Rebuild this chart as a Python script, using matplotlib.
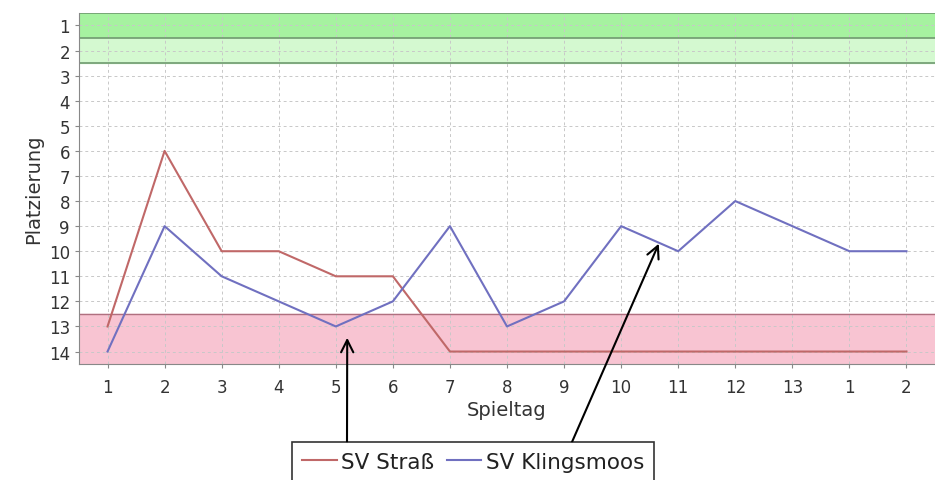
import numpy as np
import matplotlib
matplotlib.use('Agg')
import matplotlib.pyplot as plt

# Spieltage (Rückrunde beginnt wieder bei 1)
spieltag_labels = ['1', '2', '3', '4', '5', '6', '7', '8', '9', '10', '11', '12', '13', '1', '2']
strass = [13, 6, 10, 10, 11, 11, 14, 14, 14, 14, 14, 14, 14, 14, 14]
klingsmoos = [14, 9, 11, 12, 13, 12, 9, 13, 12, 9, 10, 8, 9, 10, 10]
platz_ticks = list(range(1, 15))

x = np.arange(1, len(spieltag_labels) + 1)

fig = plt.figure(figsize=(9.35, 4.81), dpi=100)
ax = fig.add_axes([0.0845, 0.241, 0.9155, 0.73])

# Aufstiegs- / Abstiegszonen
ax.axhspan(0.5, 1.5, color='#a6f2a0', zorder=0)
ax.axhspan(1.5, 2.5, color='#d4f9d0', zorder=0)
ax.axhspan(12.5, 14.5, color='#f8c4d2', zorder=0)
for yy in [0.5, 1.5, 2.5]:
    ax.axhline(yy, color='#6f9a6f', lw=1.2, zorder=1)
ax.axhline(12.5, color='#b07080', lw=1.0, zorder=1)

ax.grid(True, color='#c8c8c8', linestyle=(0, (3, 3)), lw=0.7, zorder=0.5)
ax.set_axisbelow(True)

l1, = ax.plot(x, strass, color='#c06868', lw=1.5, label='SV Straß', zorder=3)
l2, = ax.plot(x, klingsmoos, color='#7070c0', lw=1.5, label='SV Klingsmoos', zorder=3)

ax.set_xlim(0.5, 15.5)
ax.set_ylim(14.5, 0.5)
ax.set_xticks(x)
ax.set_xticklabels(spieltag_labels)
ax.set_yticks(platz_ticks)
ax.tick_params(labelsize=12, length=3, color='#888888', labelcolor='#333333')
ax.tick_params(axis='x', pad=7)
ax.set_xlabel('Spieltag', fontsize=14, color='#333333', labelpad=3)
ax.set_ylabel('Platzierung', fontsize=14, color='#333333', labelpad=4)

for s in ['top', 'right']:
    ax.spines[s].set_visible(False)
for s in ['left', 'bottom']:
    ax.spines[s].set_color('#888888')

leg = fig.legend(handles=[l1, l2], loc='upper center', bbox_to_anchor=(0.506, 0.079),
                 ncol=2, fontsize=15.5, frameon=True, fancybox=False, edgecolor='black',
                 handlelength=1.6, handletextpad=0.2, columnspacing=0.6,
                 borderpad=0.45, borderaxespad=0, labelcolor='#222222')
leg.get_frame().set_linewidth(1.2)

# Pfeile zu den Kurven
ax.annotate('', xy=(5.2, 13.45), xycoords='data',
            xytext=(347, 38), textcoords='figure pixels',
            arrowprops=dict(arrowstyle='->', color='black', lw=1.5,
                            mutation_scale=22, shrinkA=0, shrinkB=0),
            annotation_clip=False, zorder=5)
ax.annotate('', xy=(10.66, 9.7), xycoords='data',
            xytext=(572, 38), textcoords='figure pixels',
            arrowprops=dict(arrowstyle='->', color='black', lw=1.5,
                            mutation_scale=22, shrinkA=0, shrinkB=0),
            annotation_clip=False, zorder=5)

fig.savefig('out.png', dpi=100)
